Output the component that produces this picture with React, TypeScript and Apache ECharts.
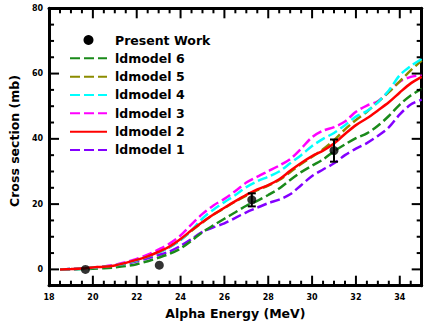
import React, { useEffect, useRef } from 'react';
import * as echarts from 'echarts';

const energy = [18.5, 19, 19.5, 20, 20.5, 21, 21.5, 22, 22.5, 23, 23.5, 24, 24.5, 25, 25.5, 26, 26.5, 27, 27.5, 28, 28.5, 29, 29.5, 30, 30.5, 31, 31.5, 32, 32.5, 33, 33.5, 34, 34.5, 35];

const ldmodel1 = [0, 0.1, 0.25, 0.5, 0.75, 1.1, 1.7, 2.5, 3.4, 4.4, 5.5, 7.2, 9.3, 11.5, 12.9, 14.1, 15.8, 17.5, 18.9, 20.3, 21.4, 23.0, 25.8, 28.6, 30.6, 32.5, 35.0, 37.0, 38.7, 40.9, 43.5, 47.5, 50.5, 52.0];
const ldmodel2 = [0, 0.1, 0.25, 0.6, 0.8, 1.2, 2.0, 2.9, 4.0, 5.4, 7.0, 9.3, 12.0, 14.5, 16.8, 18.9, 20.9, 22.8, 24.5, 25.8, 27.6, 30.2, 32.6, 34.7, 36.4, 38.6, 41.5, 44.2, 46.3, 48.7, 51.2, 54.2, 57.0, 59.0];
const ldmodel3 = [0, 0.1, 0.3, 0.6, 0.9, 1.4, 2.2, 3.2, 4.5, 6.1, 7.9, 10.4, 13.8, 17.0, 19.6, 21.6, 24.0, 26.6, 28.4, 30.1, 31.8, 33.8, 37.0, 40.5, 42.5, 43.6, 45.3, 48.3, 50.2, 51.5, 54.5, 57.5, 59.0, 59.6];
const ldmodel4 = [0, 0.1, 0.2, 0.5, 0.8, 1.2, 1.9, 2.8, 3.9, 5.2, 6.8, 9.0, 12.0, 15.6, 18.3, 20.6, 22.8, 25.2, 27.0, 28.4, 30.0, 32.5, 35.0, 37.8, 40.0, 41.8, 44.2, 46.8, 48.5, 51.2, 54.8, 59.5, 62.3, 64.5];
const ldmodel5 = [0, 0.1, 0.25, 0.55, 0.8, 1.2, 1.9, 2.8, 3.9, 5.2, 6.8, 9.0, 11.8, 14.4, 16.8, 18.8, 20.8, 22.6, 24.3, 25.7, 27.4, 29.8, 32.3, 34.5, 36.8, 39.6, 42.9, 45.8, 48.3, 51.3, 54.3, 57.6, 61.0, 64.0];
const ldmodel6 = [0, 0.05, 0.1, 0.2, 0.35, 0.6, 1.0, 1.6, 2.5, 3.6, 4.8, 6.4, 8.8, 11.4, 13.5, 15.5, 17.5, 19.5, 21.0, 22.8, 24.8, 27.4, 29.8, 31.8, 33.7, 36.2, 38.3, 40.2, 41.7, 44.0, 47.0, 50.5, 53.3, 55.3];

const expEnergy = [19.66, 23.03, 27.25, 31.0];
const expValue = [0, 1.3, 21.3, 36.4];
const expError = [0, 0, 2.0, 3.4];

const xTickLabels = [18, 20, 22, 24, 26, 28, 30, 32, 34];
const xMinorTicks = [18.5, 19, 19.5, 20.5, 21, 21.5, 22.5, 23, 23.5, 24.5, 25, 25.5, 26.5, 27, 27.5, 28.5, 29, 29.5, 30.5, 31, 31.5, 32.5, 33, 33.5, 34.5];
const yTickLabels = [0, 20, 40, 60, 80];
const yMinorTicks = [5, 10, 15, 25, 30, 35, 45, 50, 55, 65, 70, 75];

const X_MIN = 18, X_MAX = 35, Y_MIN = -5, Y_MAX = 80;
const FONT = 'DejaVu Sans';
const GRID = { left: 40.5, right: 14.3, top: 8.3, bottom: 46.3 };
const W = 436, H = 332;

export default function App() {
  const ref = useRef<HTMLDivElement>(null);
  useEffect(() => {
    const chart = echarts.init(ref.current as HTMLDivElement, null, { renderer: 'svg' });
    const axisLineOn = { show: true, onZero: false, lineStyle: { color: '#000', width: 3 } };
    const lab = (margin: number, values: number[]) => ({ show: true, customValues: values, fontSize: 8, fontWeight: 'bold', color: '#000', margin, fontFamily: FONT });
    const nameStyle = { fontSize: 12.5, fontWeight: 'bold', color: '#000', fontFamily: FONT };
    const lineSeries = (name: string, vals: number[], color: string, dashed: boolean) => ({
      name, type: 'line', smooth: 0.3, symbol: 'none', showSymbol: false,
      data: energy.map((e, i) => [e, vals[i]]),
      lineStyle: { color, width: 2.5, type: dashed ? [10, 4] : 'solid' },
      itemStyle: { color },
      z: 3,
    });

    // tick records placed in the interior (mid of the plot) to carry the value; renderItem anchors to frame
    const xMid = (X_MIN + X_MAX) / 2, yMid = (Y_MIN + Y_MAX) / 2;
    const tickData = [
      ...xTickLabels.map((v) => [v, yMid, 10, 1]),
      ...xMinorTicks.map((v) => [v, yMid, 5, 1]),
      ...yTickLabels.map((v) => [xMid, v, 10, 0]),
      ...yMinorTicks.map((v) => [xMid, v, 5, 0]),
    ];

    const option: any = {
      animation: false,
      backgroundColor: '#fff',
      grid: { ...GRID, containLabel: false },
      xAxis: [
        { type: 'value', position: 'bottom', min: X_MIN, max: X_MAX, interval: 0.5, axisLine: axisLineOn,
          axisTick: { show: false }, splitLine: { show: false },
          axisLabel: lab(8, xTickLabels),
          name: 'Alpha Energy (MeV)', nameLocation: 'middle', nameGap: 21, nameTextStyle: nameStyle },
        { type: 'value', position: 'top', min: X_MIN, max: X_MAX, interval: 0.5, axisLine: axisLineOn,
          axisTick: { show: false }, splitLine: { show: false }, axisLabel: { show: false } },
      ],
      yAxis: [
        { type: 'value', position: 'left', min: Y_MIN, max: Y_MAX, interval: 5, axisLine: axisLineOn,
          axisTick: { show: false }, splitLine: { show: false },
          axisLabel: lab(6, yTickLabels),
          name: 'Cross section (mb)', nameLocation: 'middle', nameGap: 23, nameTextStyle: { ...nameStyle, padding: [0, 0, 0, 12] } },
        { type: 'value', position: 'right', min: Y_MIN, max: Y_MAX, interval: 5, axisLine: axisLineOn,
          axisTick: { show: false }, splitLine: { show: false }, axisLabel: { show: false } },
      ],
      legend: {
        orient: 'vertical', left: 69, top: 33.5, padding: 0, itemWidth: 37, itemHeight: 10, itemGap: 5.33,
        itemStyle: { opacity: 0 },
        textStyle: { fontSize: 12.5, fontWeight: 'bold', color: '#000', fontFamily: FONT, padding: [0, 0, 0, 3] },
        data: [
          { name: 'Present Work', itemStyle: { opacity: 1 } },
          'ldmodel 6', 'ldmodel 5', 'ldmodel 4', 'ldmodel 3', 'ldmodel 2', 'ldmodel 1',
        ],
      },
      series: [
        lineSeries('ldmodel 1', ldmodel1, '#8400ff', true),
        lineSeries('ldmodel 6', ldmodel6, '#1a8a1a', true),
        lineSeries('ldmodel 3', ldmodel3, '#ff00ff', true),
        lineSeries('ldmodel 5', ldmodel5, '#8c8c00', true),
        lineSeries('ldmodel 4', ldmodel4, '#00ffff', true),
        lineSeries('ldmodel 2', ldmodel2, '#ff0000', false),
        {
          name: 'frame ticks', type: 'custom', z: 30, clip: false,
          data: tickData,
          renderItem: (params: any, api: any) => {
            const len = api.value(2);
            const isX = api.value(3);
            const fill = { fill: '#000' };
            if (isX) {
              const v = api.value(0);
              const b = api.coord([v, Y_MIN]);
              const t = api.coord([v, Y_MAX]);
              return {
                type: 'group',
                children: [
                  { type: 'rect', shape: { x: b[0] - 1, y: b[1] - len, width: 2, height: len }, style: fill },
                  { type: 'rect', shape: { x: t[0] - 1, y: t[1], width: 2, height: len }, style: fill },
                ],
              };
            }
            const v = api.value(1);
            const l = api.coord([X_MIN, v]);
            const r = api.coord([X_MAX, v]);
            return {
              type: 'group',
              children: [
                { type: 'rect', shape: { x: l[0], y: l[1] - 1, width: len, height: 2 }, style: fill },
                { type: 'rect', shape: { x: r[0] - len, y: r[1] - 1, width: len, height: 2 }, style: fill },
              ],
            };
          },
        },
        {
          name: 'errorbars', type: 'custom', z: 5,
          data: expEnergy.map((e, i) => [e, expValue[i], expError[i]]),
          renderItem: (params: any, api: any) => {
            const x = api.value(0), y = api.value(1), err = api.value(2);
            if (!err) return { type: 'group', children: [] };
            const top = api.coord([x, y + err]);
            const bot = api.coord([x, y - err]);
            const hw = 4;
            const st = { stroke: '#000', lineWidth: 2 };
            return {
              type: 'group',
              children: [
                { type: 'line', shape: { x1: top[0], y1: top[1], x2: bot[0], y2: bot[1] }, style: st },
                { type: 'line', shape: { x1: top[0] - hw, y1: top[1], x2: top[0] + hw, y2: top[1] }, style: st },
                { type: 'line', shape: { x1: bot[0] - hw, y1: bot[1], x2: bot[0] + hw, y2: bot[1] }, style: st },
              ],
            };
          },
        },
        {
          name: 'Present Work', type: 'scatter', symbol: 'circle', symbolSize: 9, z: 6,
          itemStyle: { color: '#000' },
          data: expEnergy.map((e, i) => [e, expValue[i]]),
        },
      ],
    };
    chart.setOption(option);
    return () => chart.dispose();
  }, []);
  return <div ref={ref} style={{ position: 'fixed', left: 0, top: 0, width: W, height: H, background: '#fff' }} />;
}
